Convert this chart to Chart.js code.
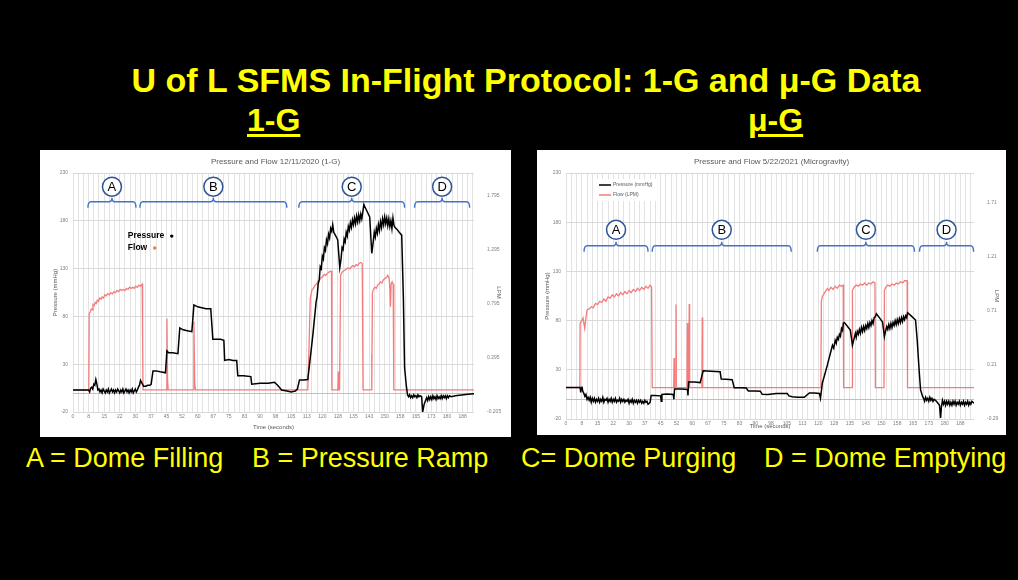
<!DOCTYPE html>
<html><head><meta charset="utf-8">
<script src="https://cdn.jsdelivr.net/npm/chart.js@4.4.1/dist/chart.umd.min.js"></script>
<style>
html,body{margin:0;padding:0;background:#000;width:1018px;height:580px;overflow:hidden;font-family:'Liberation Sans',Arial,sans-serif;}
.t{position:absolute;color:#ffff00;white-space:nowrap;line-height:1;}
.panel{position:absolute;background:#fff;}
.panel canvas{display:block;}
</style></head><body>
<div class="t" style="left:0;width:1052px;text-align:center;top:63px;font-size:34px;font-weight:bold;">U of L SFMS In-Flight Protocol: 1-G and μ-G Data</div>
<div class="t" style="left:247px;top:104px;font-size:32px;font-weight:bold;text-decoration:underline;text-decoration-thickness:3px;text-underline-offset:3px;">1-G</div>
<div class="t" style="left:748px;top:104px;font-size:32px;font-weight:bold;text-decoration:underline;text-decoration-thickness:3px;text-underline-offset:3px;">μ-G</div>
<div class="panel" style="left:40px;top:150px;width:471px;height:287px;"><canvas id="c1" width="471" height="287"></canvas></div>
<div class="panel" style="left:537px;top:150px;width:469px;height:285px;"><canvas id="c2" width="469" height="285"></canvas></div>
<div class="t" style="left:26px;top:445px;font-size:27px;">A = Dome Filling</div>
<div class="t" style="left:252px;top:445px;font-size:27px;">B = Pressure Ramp</div>
<div class="t" style="left:521px;top:445px;font-size:27px;">C= Dome Purging</div>
<div class="t" style="left:764px;top:445px;font-size:27px;">D = Dome Emptying</div>
<script>
// ---------- DATA ----------
const xTickLabels = ['0','8','15','22','30','37','45','52','60','67','75','83','90','98','105','113','120','128','135','143','150','158','165','173','180','188'];
const pressureTicks = [-20, 30, 80, 130, 180, 230];
const flowTicks1G = [-0.205, 0.295, 0.795, 1.295, 1.795];
const flowTickLabels1G = ['-0.205','0.295','0.795','1.295','1.795'];
const flowTicksMuG = [-0.29, 0.21, 0.71, 1.21, 1.71];
const flowTickLabelsMuG = ['-0.29','0.21','0.71','1.21','1.71'];
const phaseLetters = ['A','B','C','D'];
const phaseStart1G = [7.2, 32.2, 108.7, 164.4];
const phaseEnd1G = [30.3, 102.9, 159.6, 190.9];
const phaseStartMuG = [8.6, 41, 119.5, 168.1];
const phaseEndMuG = [39, 107.1, 165.7, 193.8];
const markerLabels1G = ['Pressure','Flow'];
const markerColors1G = ['#000000','#ed7d31'];

// [time (s), pressure (mmHg)]
const pressure1G = [[0,3],[2,3],[4,3],[6,3],[7.5,3],[8,1],[8.5,5],[9,6],[9.5,4],[10,9],[10.5,8],[11,14],[11.5,9],[12,3],[12.5,4],[13,1],[13.5,3],[14,0],[14.5,4],[15,2],[15.5,0],[16,3],[16.5,1],[17,4],[17.5,0],[18,2],[18.5,4],[19,1],[19.5,3],[20,0],[20.5,3],[21,1],[21.5,4],[22,2],[22.5,0],[23,3],[23.5,1],[24,4],[24.5,0],[25,2],[25.5,4],[26,1],[26.5,3],[27,0],[27.5,3],[28,1],[28.5,4],[29,0],[29.5,2],[30,4],[30.5,1],[31,3],[31.5,6],[32,8],[32.5,13],[33,11],[33.5,9],[34,7],[35,7],[36,8],[37,8],[37.6,9],[38.5,23],[40,23],[42,22],[44.5,21],[45.2,44],[46,42],[48,42],[50.5,41],[51.4,68],[53,66],[55,65],[57.2,64],[58.2,92],[60,90],[62,89],[64,88],[66.3,88],[67.3,56],[69,56],[71,56],[72.6,55],[73,34],[75,35],[77,34],[78.8,34],[79.3,18],[82,18],[85.6,17],[86,9],[90,10],[94,10],[97,11],[98.5,8],[100.4,3],[103,2],[105,1],[107,2],[108,4],[109,13.5],[111,13.5],[113,14],[114.9,50],[115.5,62],[116,73],[116.5,84],[117,95],[117.5,101],[118,114],[118.5,118],[119,132],[119.5,130],[120,143],[120.5,140],[121,152],[121.5,149],[122,160],[122.5,156],[123,166],[123.5,162],[124,172],[124.5,169],[125,176],[125.5,168],[126,166],[126.5,164],[127,162],[127.4,160],[128.4,131],[129,140],[129.5,152],[130,150],[130.5,161],[131,158],[131.5,168],[132,164],[132.5,174],[133,170],[133.5,178],[134,173],[134.5,181],[135,176],[135.5,183],[136,177],[136.5,185],[137,179],[137.5,186],[138,180],[138.5,187],[139,182],[139.4,188],[140,197],[140.4,195],[141.5,190],[142.8,184],[143.8,146],[144.5,158],[145,168],[145.5,163],[146,172],[146.5,167],[147,176],[147.5,170],[148,179],[148.5,173],[149,182],[149.5,176],[150,184],[150.5,177],[151,183],[151.5,175],[152,182],[152.5,174],[153,180],[153.5,172],[154,183],[154.5,175],[155,173],[156,171],[157,168],[158.2,165],[159,100],[159.6,26],[160.4,8],[161,-2],[161.5,-4],[162,-2],[162.5,-5],[163,-3],[163.5,-5],[164,-2],[164.5,-4],[165,-3],[165.5,-5],[166,-2],[166.5,-4],[167,-3],[167.8,-4],[168.3,-20],[169,-12],[170.2,-5],[170.7,-8],[171.2,-4],[171.7,-7],[172.2,-4],[172.7,-7],[173.2,-3],[173.7,-6],[174.2,-4],[174.7,-7],[175.2,-3],[175.7,-6],[176.2,-4],[176.7,-6],[177.2,-3],[177.7,-6],[178.2,-3],[178.7,-5],[179.2,-3],[179.7,-6],[180.2,-3],[180.7,-5],[181.2,-3],[182,-4],[184,-3],[186,-2.5],[188,-2],[190,-1.5],[193,-1]];

// [time (s), flow (LPM)]
const flow1G = [[0,0],[7.6,0],[7.8,0.71],[8.3,0.72],[8.8,0.75],[9.3,0.74],[9.6,0.79],[10.2,0.78],[10.7,0.81],[11.2,0.8],[11.7,0.83],[12.3,0.82],[12.8,0.85],[13.5,0.84],[14,0.86],[14.7,0.85],[15.3,0.88],[16,0.87],[16.7,0.89],[17.5,0.88],[18.2,0.9],[19,0.89],[19.7,0.91],[20.5,0.9],[21.2,0.92],[22,0.91],[22.7,0.93],[23.5,0.92],[24.2,0.93],[25,0.92],[25.7,0.94],[26.5,0.93],[27.2,0.95],[28,0.94],[28.7,0.95],[29.5,0.94],[30.2,0.96],[31,0.95],[31.7,0.97],[32.5,0.96],[33.3,0.98],[33.5,0.5],[33.7,0],[45,0],[45.2,0.66],[45.5,0.1],[45.8,0],[58,0],[58.2,0.63],[58.6,0.05],[59,0],[113,0],[113.6,0.4],[114.2,0.85],[115,0.925],[115.7,0.94],[116.5,0.97],[117.2,0.98],[118,1.01],[118.7,1.02],[119.5,1.04],[120.2,1.05],[121,1.07],[121.7,1.06],[122.5,1.08],[123.2,1.09],[124,1.1],[124.4,1.1],[124.6,0],[127.5,0],[127.7,0.17],[127.9,0],[128.3,0],[128.8,1.06],[129.5,1.09],[130.2,1.1],[131,1.11],[131.7,1.12],[132.5,1.13],[133.2,1.12],[134,1.14],[134.7,1.15],[135.5,1.14],[136.2,1.16],[137,1.15],[137.7,1.17],[138.5,1.18],[139.2,1.17],[139.4,1.17],[139.6,0],[143.5,0],[143.7,0.33],[143.9,0],[144.1,0.9],[144.6,0.93],[145.3,0.95],[146,0.94],[146.6,0.97],[147.3,0.98],[148,1.0],[148.7,0.99],[149.4,1.02],[150.1,1.03],[150.8,1.04],[151.5,1.06],[152.2,1.03],[152.6,0.9],[152.8,0.77],[153.1,0.98],[153.6,1.0],[154.1,0.98],[154.4,0],[193,0]];

const pressureMuG = [[0,12],[3,12],[6,12],[6.7,12],[7,7],[7.3,11],[7.6,13],[8,8],[8.5,6],[9,3],[9.5,5],[10,0],[10.5,2],[11,-1],[11.5,2],[12,-3],[12.5,1],[13,-2],[13.5,1],[14,-3],[14.5,0],[15,-2],[15.5,1],[16,-3],[16.5,0],[17,-2],[17.5,2],[18,-3],[18.5,0],[19,-1],[19.5,1],[20,-3],[20.5,0],[21,-2],[21.5,1],[22,-3],[22.5,0],[23,-2],[23.5,1],[24,-3],[24.5,-1],[25,-2],[25.5,1],[26,-3],[26.5,0],[27,-2],[27.5,0],[28,-3],[28.5,-1],[29,-2],[29.5,0],[30,-4],[30.5,-1],[31,-3],[31.5,0],[32,-4],[32.5,-1],[33,-3],[33.5,-1],[34,-4],[34.5,-1],[35,-3],[35.5,-1],[36,-4],[36.5,-2],[37,-4],[37.5,-1],[38,-3],[38.5,-2],[39,-5],[39.6,-4],[40,-3],[40.5,4],[42,4],[45,3.5],[45.3,-2],[45.6,5],[48,5.5],[51,5],[51.3,0],[51.6,10.5],[55,10.5],[57.8,10],[58,4],[58.3,17.5],[61,17.5],[63.8,17],[65.2,29],[69,28.5],[73.3,28],[73.8,20.6],[76,20.5],[79,20],[80,11.8],[83,11.8],[85.7,11.5],[86.7,8.5],[90,8.5],[92.4,8.3],[93.3,5.1],[96,5],[100,6],[105.2,6],[106,3.5],[107.6,2.7],[110,2.2],[113.3,2],[115.7,6.4],[118,6.4],[120.5,6],[121,1],[121.9,16.6],[123,25],[124.3,35],[125.5,45],[126.7,55],[127.3,52],[128,60],[128.5,57],[129,63],[129.5,61],[130,66],[130.5,64],[131,72],[131.5,70],[131.9,77.6],[132.4,78],[133.5,75],[135.2,70.4],[136.2,55],[137,62],[137.6,67],[138,63],[138.5,69],[139,66],[139.5,71],[140,67],[140.5,73],[141,69],[141.5,74],[142,70],[142.5,75],[143,72],[143.5,77],[144,73],[144.5,78],[145,75],[145.5,80],[146,77],[146.5,83],[147.1,84],[147.6,87],[149,83],[150.5,78.6],[151.4,63.6],[152,70],[152.5,74],[153,71],[153.5,76],[154,72],[154.5,77],[155,73],[155.5,78],[156,75],[156.5,80],[157,76],[157.5,81],[158,77],[158.5,82],[159,78],[159.5,83],[160,79],[160.5,84],[161,81],[161.5,85],[162,83],[162.4,88],[164,85],[166.2,80.6],[167,60],[168,26.7],[168.6,9.5],[169.5,3.4],[170,1],[170.5,-2],[171,2],[171.5,-1],[172,1],[172.5,-2],[173,2],[173.5,-1],[174,1],[174.5,-2],[175,0],[175.7,-1],[176.5,-3],[177.6,-6],[178.1,-19],[178.5,-8],[179,-1],[179.5,-5],[180,-2],[180.5,-6],[181,-2],[181.5,-5],[182,-2],[182.5,-6],[183,-3],[183.5,-6],[184,-2],[184.5,-5],[185,-2],[185.5,-6],[186,-3],[186.5,-5],[187,-2],[187.5,-6],[188,-3],[188.5,-5],[189,-2],[189.5,-6],[190,-3],[190.5,-5],[191,-2],[191.5,-6],[192,-3],[192.5,-5],[193,-2],[194,-4]];

const flowMuG = [[0,0],[6.6,0],[6.7,0.6],[7.5,0.62],[8.1,0.645],[8.9,0.55],[9.5,0.65],[10,0.72],[11,0.73],[12,0.75],[13,0.74],[14,0.78],[15,0.77],[16,0.8],[17,0.79],[18,0.82],[19,0.8],[20,0.84],[21,0.83],[22,0.86],[23,0.84],[24,0.87],[25,0.85],[26,0.88],[27,0.86],[28,0.89],[29,0.87],[30,0.9],[31,0.88],[32,0.91],[33,0.89],[34,0.92],[35,0.9],[36,0.93],[37,0.91],[38,0.94],[39,0.92],[40,0.95],[40.7,0.93],[41,0],[51.2,0],[51.4,0.275],[51.6,0],[52.1,0],[52.3,0.77],[52.5,0],[57.5,0],[57.7,0.6],[57.9,0],[58.4,0],[58.6,0.775],[58.8,0],[64.6,0],[64.8,0.65],[65,0],[121.2,0],[121.4,0.8],[122,0.85],[123,0.88],[124.3,0.92],[125,0.9],[126,0.93],[127,0.91],[128,0.94],[129,0.92],[130,0.95],[131,0.94],[131.8,0.95],[132,0],[136,0],[136.2,0.9],[137,0.93],[138,0.95],[139,0.94],[140,0.96],[141,0.95],[142,0.97],[143,0.95],[144,0.97],[145,0.96],[146,0.98],[146.9,0.97],[147.1,0],[151.2,0],[151.4,0.9],[152,0.93],[153,0.95],[154,0.94],[155,0.96],[156,0.95],[157,0.97],[158,0.96],[159,0.98],[160,0.97],[161,0.99],[162.2,0.99],[162.4,0],[194,0]];

// ---------- RENDERING ----------
const FONT = "'Liberation Sans', Arial, sans-serif";
Chart.defaults.font.family = FONT;
const toPts = arr => arr.map(p => ({x: p[0], y: p[1]}));

function makeOverlay(cfg) {
  return {
    id: 'overlay' + cfg.name,
    beforeDatasetsDraw(chart) {
      const {ctx, chartArea: a, scales} = chart;
      const y0 = Math.round(scales.y.getPixelForValue(0)) + 0.5;
      ctx.save();
      ctx.strokeStyle = '#bfbfbf'; ctx.lineWidth = 1;
      ctx.beginPath(); ctx.moveTo(a.left, y0); ctx.lineTo(a.right, y0); ctx.stroke();
      ctx.restore();
    },
    afterDatasetsDraw(chart) {
      const {ctx, chartArea: a, scales} = chart;
      const xs = scales.x, ys = scales.y;
      const yb = ys.getPixelForValue(cfg.braceLevel);
      ctx.save();
      cfg.starts.forEach((s, i) => {
        const x1 = xs.getPixelForValue(s), x2 = xs.getPixelForValue(cfg.ends[i]), xm = (x1 + x2) / 2;
        ctx.strokeStyle = '#4472c4'; ctx.lineWidth = 1.4;
        ctx.beginPath();
        ctx.moveTo(x1, yb + 6); ctx.quadraticCurveTo(x1, yb, x1 + 3, yb);
        ctx.lineTo(xm - 3, yb); ctx.quadraticCurveTo(xm, yb, xm, yb - 4);
        ctx.quadraticCurveTo(xm, yb, xm + 3, yb); ctx.lineTo(x2 - 3, yb);
        ctx.quadraticCurveTo(x2, yb, x2, yb + 6);
        ctx.stroke();
        const cy = yb - cfg.circleGap;
        ctx.beginPath(); ctx.arc(xm, cy, 9.5, 0, Math.PI * 2);
        ctx.fillStyle = '#fff'; ctx.fill();
        ctx.strokeStyle = '#2f5597'; ctx.lineWidth = 1.5; ctx.stroke();
        ctx.fillStyle = '#000'; ctx.font = '13px ' + FONT;
        ctx.textAlign = 'center'; ctx.textBaseline = 'middle';
        ctx.fillText(phaseLetters[i], xm, cy + 0.5);
      });
      if (cfg.markers) {
        ctx.font = 'bold 8.5px ' + FONT;
        ctx.textAlign = 'left'; ctx.textBaseline = 'middle';
        cfg.markers.labels.forEach((lab, i) => {
          const tx = xs.getPixelForValue(cfg.markers.x), ty = ys.getPixelForValue(cfg.markers.y[i]);
          ctx.fillStyle = '#000'; ctx.fillText(lab, tx, ty);
          const w = ctx.measureText(lab).width;
          ctx.beginPath(); ctx.arc(tx + w + 7.5, ty, 1.7, 0, Math.PI * 2);
          ctx.fillStyle = cfg.markers.colors[i]; ctx.fill();
        });
      }
      if (cfg.legendBox) {
        const lx = a.left + 31, ly = a.top + 6;
        ctx.fillStyle = '#fff'; ctx.fillRect(lx, ly, 59, 22);
        ctx.font = '5px ' + FONT; ctx.textAlign = 'left'; ctx.textBaseline = 'middle';
        chart.data.datasets.forEach((ds, i) => {
          const yy = ly + 6 + i * 10;
          ctx.strokeStyle = ds.borderColor; ctx.lineWidth = 1.5;
          ctx.beginPath(); ctx.moveTo(lx + 2, yy); ctx.lineTo(lx + 14, yy); ctx.stroke();
          ctx.fillStyle = '#595959'; ctx.fillText(ds.label, lx + 16, yy);
        });
      }
      ctx.restore();
    }
  };
}

function build(canvasId, p) {
  return new Chart(document.getElementById(canvasId), {
    type: 'line',
    data: {
      datasets: [
        {label: p.pLabel, data: toPts(p.pressure), yAxisID: 'y', borderColor: '#000000', borderWidth: 1.5, pointRadius: 0, tension: 0},
        {label: p.fLabel, data: toPts(p.flow), yAxisID: 'y1', borderColor: '#f47c7c', borderWidth: 1.3, pointRadius: 0, tension: 0}
      ]
    },
    options: {
      responsive: false, animation: false, devicePixelRatio: 1,
      layout: {padding: 0},
      plugins: {
        legend: {display: false}, tooltip: {enabled: false},
        title: {display: true, text: p.title, color: '#595959', font: {size: 8, weight: 'normal'}, padding: {top: 6.7, bottom: 6.7}}
      },
      scales: {
        x: {
          type: 'linear', min: 0, max: p.xMax,
          afterBuildTicks: s => { const t = []; for (let i = 0; i * 2.5 <= p.xMax; i++) t.push({value: i * 2.5}); s.ticks = t; },
          afterFit: s => { s.height = p.bottomH; },
          grid: {color: '#e2e2e2', drawTicks: false}, border: {display: false},
          ticks: {autoSkip: false, maxRotation: 0, minRotation: 0, font: {size: 5}, color: '#808080', padding: p.xTickPad,
            callback: (v, i) => (i % 3 === 0 && xTickLabels[i / 3] !== undefined) ? xTickLabels[i / 3] : ''},
          title: {display: true, text: 'Time (seconds)', color: '#595959', font: {size: 6}, padding: {top: 0, bottom: p.xTitlePad}}
        },
        y: {
          type: 'linear', position: 'left', min: -20, max: 230,
          afterBuildTicks: s => { s.ticks = pressureTicks.map(v => ({value: v})); },
          afterFit: s => { s.width = p.leftW; },
          grid: {color: '#d9d9d9', drawTicks: false}, border: {display: false},
          ticks: {font: {size: 5}, color: '#808080', padding: 5},
          title: {display: true, text: 'Pressure (mmHg)', color: '#595959', font: {size: 6}, padding: {top: p.yTitlePad, bottom: 0}}
        },
        y1: {
          type: 'linear', position: 'right', min: p.fMin, max: p.fMax,
          afterBuildTicks: s => { s.ticks = p.fTicks.map(v => ({value: v})); },
          afterFit: s => { s.width = p.rightW; },
          grid: {display: false, drawOnChartArea: false}, border: {display: false},
          ticks: {font: {size: 5}, color: '#808080', padding: 5, callback: (v, i) => p.fTickLabels[i]},
          title: {display: true, text: 'LPM', color: '#595959', font: {size: 6}, padding: {top: p.y1TitlePad, bottom: 0}}
        }
      }
    },
    plugins: [makeOverlay(p.overlay)]
  });
}

build('c1', {
  title: 'Pressure and Flow 12/11/2020 (1-G)', pLabel: 'Pressure', fLabel: 'Flow',
  pressure: pressure1G, flow: flow1G, xMax: 193,
  fMin: -0.205, fMax: 2.008, fTicks: flowTicks1G, fTickLabels: flowTickLabels1G,
  leftW: 33, rightW: 37, bottomH: 25, xTickPad: 2, xTitlePad: 6.4, yTitlePad: 11.4, y1TitlePad: 8.4,
  overlay: {name: '1G', starts: phaseStart1G, ends: phaseEnd1G, braceLevel: 200, circleGap: 15,
    markers: {labels: markerLabels1G, colors: markerColors1G, x: 26.4, y: [164, 151.5]}}
});

build('c2', {
  title: 'Pressure and Flow 5/22/2021 (Microgravity)', pLabel: 'Pressure (mmHg)', fLabel: 'Flow (LPM)',
  pressure: pressureMuG, flow: flowMuG, xMax: 194,
  fMin: -0.29, fMax: 1.988, fTicks: flowTicksMuG, fTickLabels: flowTickLabelsMuG,
  leftW: 29, rightW: 32, bottomH: 16, xTickPad: 1.5, xTitlePad: 5.4, yTitlePad: 6.4, y1TitlePad: 5.4,
  overlay: {name: 'MuG', starts: phaseStartMuG, ends: phaseEndMuG, braceLevel: 156, circleGap: 16, legendBox: true}
});
</script>
</body></html>
